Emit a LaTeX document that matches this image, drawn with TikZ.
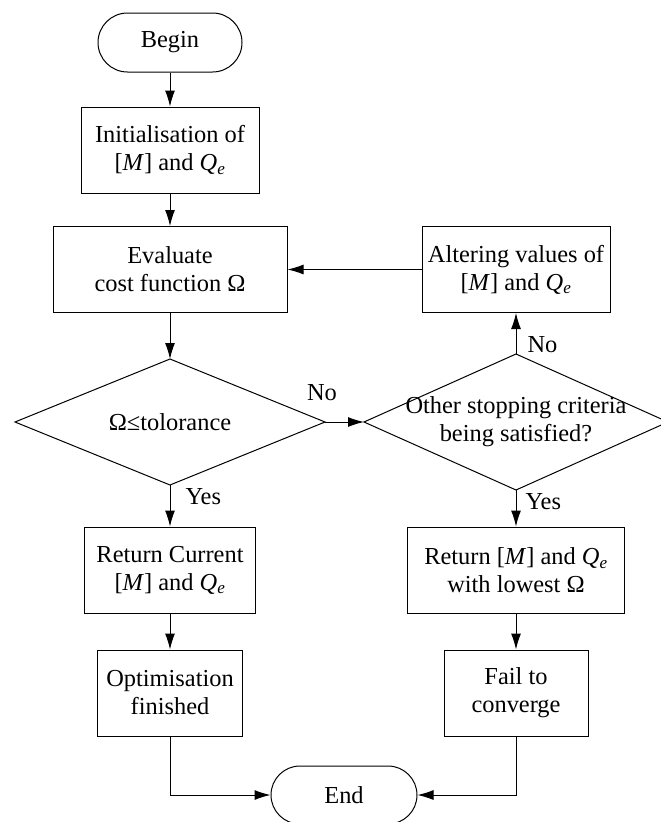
\documentclass[tikz,border=0pt]{standalone}
\usepackage{fontspec}
\setmainfont{Liberation Serif}
\usetikzlibrary{positioning,shapes.geometric,shapes.misc,arrows.meta}
\newcommand{\MM}{[\textit{M}]}
\newcommand{\Qe}{\textit{Q}\textsubscript{\textit{e}}}

\begin{document}
\begin{tikzpicture}[-{Latex[length=16pt,width=10pt]} ,on grid ,line width=1pt ,
every node/.style={font=\fontsize{24.4}{28}\selectfont},
term/.style={rounded rectangle ,draw ,minimum width=144pt ,minimum height=59pt ,inner sep=0pt},
block/.style={rectangle ,draw ,minimum height=86pt ,inner sep=4pt ,align=center},
decision/.style={diamond ,draw ,inner sep=0pt ,outer sep=0pt},
lbl/.style={inner sep=0pt}
]
\useasboundingbox (0,0) rectangle (661pt,-822pt);
\node[term] (B) at (170pt,-42.5pt) {Begin};
\node[block ,minimum width=178pt] (I) [below=107.5pt of B] {Initialisation of\\\MM{} and \Qe};
\node[block ,minimum width=234pt] (Ev) [below=119.5pt of I] {Evaluate\\cost function Ω};
\node[decision ,minimum width=310pt ,minimum height=126pt ,
  label={center:Ω≤tolorance}] (D1) [below=152.5pt of Ev] {};
\node[block ,minimum width=171pt] (R1) [below=148pt of D1] {Return Current\\\MM{} and \Qe};
\node[block ,minimum width=145pt] (F1) [below=123pt of R1] {Optimisation\\finished};
\node[block ,minimum width=188pt] (Alt) [right=346pt of Ev] {Altering values of\\\MM{} and \Qe};
\node[decision ,minimum width=304pt ,minimum height=136pt ,
  label={[align=center]center:Other stopping criteria\\being satisfied?}] (D2) [right=346pt of D1] {};
\node[block ,minimum width=217pt] (R2) [below=148pt of D2] {Return \MM{} and \Qe\\with lowest Ω};
\node[block ,minimum width=144pt] (F2) [below=123pt of R2] {Fail to\\converge};
\node[term ,minimum width=146pt ,minimum height=58pt] (E) at (344pt,-795pt) {End};
% main line
\draw (B) -- (I);
\draw (I) -- (Ev);
\draw (Ev) -- (D1);
\draw (D1) -- node[lbl ,at start ,anchor=base west ,xshift=15pt ,yshift=-19pt] {Yes} (R1);
\draw (R1) -- (F1);
\draw (F1) |- (E);
% other branch
\draw (D1) -- node[lbl ,at start ,anchor=south ,xshift=-3pt ,yshift=21pt] {No} (D2);
\draw (D2) -- node[lbl ,at start ,anchor=south west ,xshift=11pt ,yshift=1pt] {No} (Alt);
\draw (Alt) -- (Ev);
\draw (D2) -- node[lbl ,at start ,anchor=base west ,xshift=9pt ,yshift=-19pt] {Yes} (R2);
\draw (R2) -- (F2);
\draw (F2) |- (E);
\end{tikzpicture}
\end{document}
